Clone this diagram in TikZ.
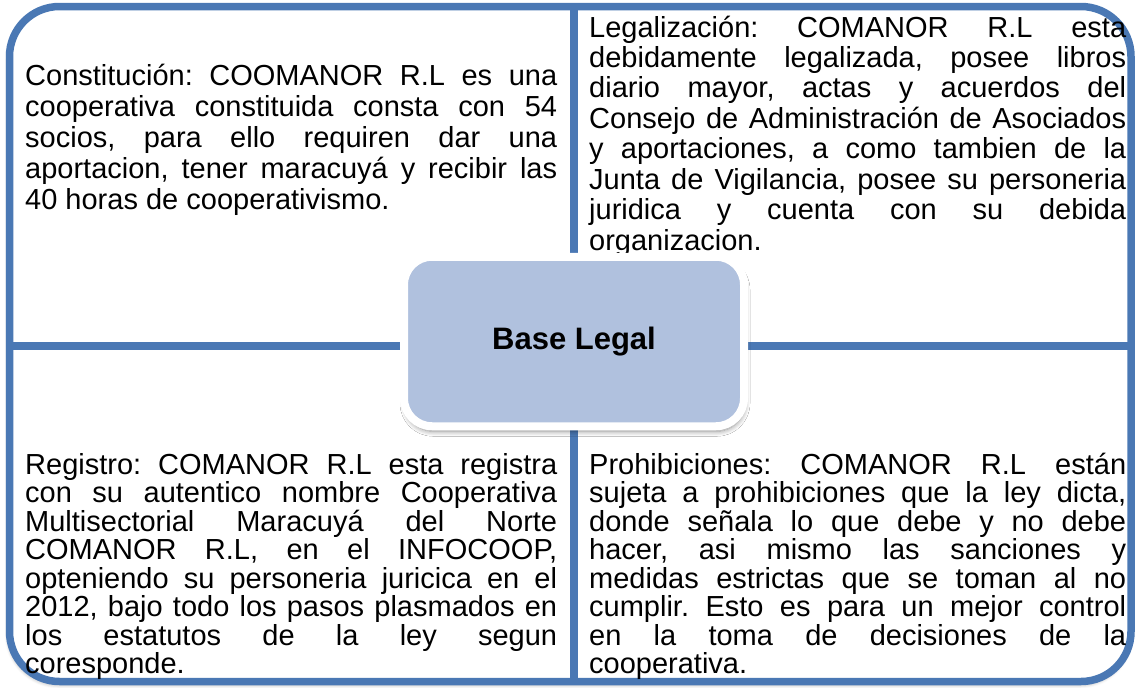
\documentclass[tikz,border=0pt]{standalone}
\usepackage{fontspec}
\setmainfont{Liberation Sans}
\usetikzlibrary{shadows.blur}
\frenchspacing
\definecolor{frameblue}{HTML}{4A78B4}
\definecolor{centerfill}{HTML}{B0C1DE}
\newlength\qw
\newcommand\jline[1]{\hbox{\makebox[\qw][s]{#1}}}
\newcommand\lline[1]{\hbox{#1}}
\newcommand\textblock[3]{\vtop{\setlength\qw{#1}\baselineskip=#2\lineskiplimit=-100pt\lineskip=0pt #3}}
\tikzset{
  qtext/.style={font=\fontsize{29}{31}\selectfont, inner sep=0pt, anchor=base west, text=black},
  frameline/.style={draw=frameblue, line width=7.5pt},
  centerbox/.style={draw=white, line width=8pt, fill=centerfill, rounded corners=28pt,
    minimum width=340pt, minimum height=169.5pt, inner sep=0pt,
    font=\bfseries\fontsize{31}{36}\selectfont,
    blur shadow={shadow xshift=1pt, shadow yshift=-5pt, shadow blur steps=8, shadow blur radius=5pt, shadow opacity=45}}
}
\begin{document}
\begin{tikzpicture}[x=1pt,y=-1pt]
\useasboundingbox (0,0) rectangle (1144,688);
% frame
\coordinate (ftl) at (9.5,6.5);
\coordinate (fbr) at (1131,681.5);
\coordinate (vt) at (574,6.5);
\coordinate (vb) at (574,681.5);
\coordinate (hl) at (9.5,346);
\coordinate (hr) at (1131,346);
\path[fill=white, rounded corners=50pt, blur shadow={shadow xshift=-1pt, shadow yshift=-3pt, shadow blur steps=6, shadow blur radius=4pt, shadow opacity=35}] (ftl) rectangle (fbr);
\draw[frameline] (vt) -- (vb);
\draw[frameline] (hl) -- (hr);
\draw[frameline, rounded corners=50pt] (ftl) rectangle (fbr);
% texts
\node[qtext] (tl) at (25,85) {\textblock{532pt}{31pt}{%
\jline{Constitución: COOMANOR R.L es una}
\jline{cooperativa constituida consta con 54}
\jline{socios, para ello requiren dar una}
\jline{aportacion, tener maracuyá y recibir las}
\lline{40 horas de cooperativismo.}}};
\node[qtext] (tr) at (589,37) {\textblock{537pt}{30.5pt}{%
\jline{Legalización: COMANOR R.L esta}
\jline{debidamente legalizada, posee libros}
\jline{diario mayor, actas y acuerdos del}
\jline{Consejo de Administración de Asociados}
\jline{y aportaciones, a como tambien de la}
\jline{Junta de Vigilancia, posee su personeria}
\jline{juridica y cuenta con su debida}
\lline{organizacion.}}};
\node[qtext] (bl) at (25,474) {\textblock{532pt}{28.5pt}{%
\jline{Registro: COMANOR R.L esta registra}
\jline{con su autentico nombre Cooperativa}
\jline{Multisectorial Maracuyá del Norte}
\jline{COMANOR R.L, en el INFOCOOP,}
\jline{opteniendo su personeria juricica en el}
\jline{2012, bajo todo los pasos plasmados en}
\jline{los estatutos de la ley segun}
\lline{coresponde.}}};
\node[qtext] (br) at (589,474) {\textblock{537pt}{28.5pt}{%
\jline{Prohibiciones: COMANOR R.L están}
\jline{sujeta a prohibiciones que la ley dicta,}
\jline{donde señala lo que debe y no debe}
\jline{hacer, asi mismo las sanciones y}
\jline{medidas estrictas que se toman al no}
\jline{cumplir. Esto es para un mejor control}
\jline{en la toma de decisiones de la}
\lline{cooperativa.}}};
% center
\node[centerbox] (c) at (574,341.5) {Base Legal};
\end{tikzpicture}
\end{document}
